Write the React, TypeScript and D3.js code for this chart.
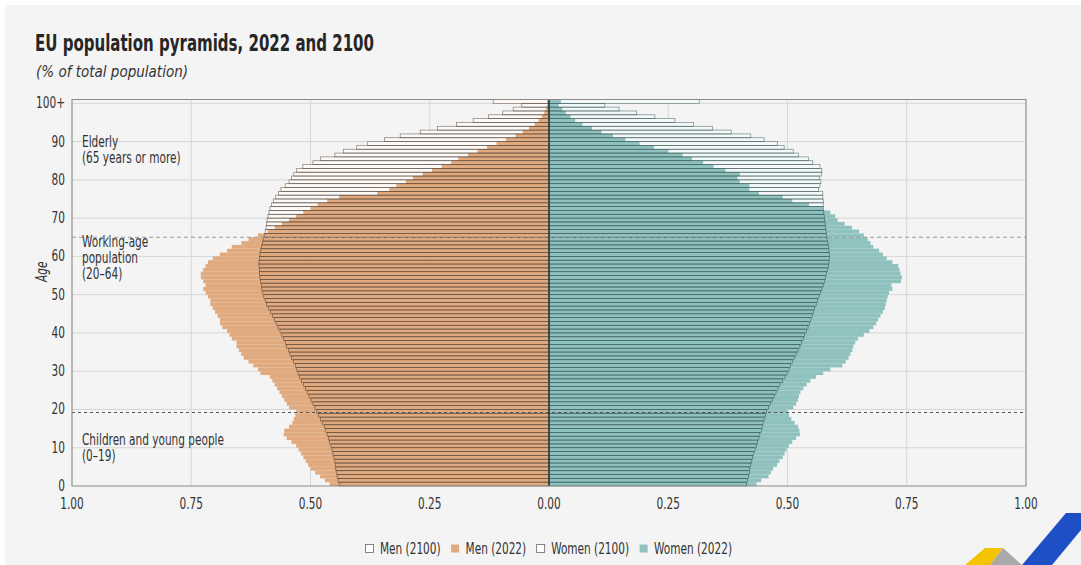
import React, { useEffect, useRef } from 'react';
import * as d3 from 'd3';

// % of total population by single year of age (index = age, last = 100+)
const men2022 = [
  0.46, 0.47, 0.48, 0.49, 0.5, 0.505, 0.51, 0.515, 0.52, 0.525,
  0.53, 0.54, 0.55, 0.556, 0.555, 0.545, 0.538, 0.535, 0.532, 0.53,
  0.545, 0.55, 0.555, 0.56, 0.565, 0.57, 0.575, 0.58, 0.585, 0.605,
  0.61, 0.62, 0.63, 0.64, 0.645, 0.65, 0.655, 0.655, 0.665, 0.67,
  0.675, 0.685, 0.69, 0.69, 0.695, 0.7, 0.705, 0.71, 0.71, 0.715,
  0.72, 0.725, 0.72, 0.725, 0.73, 0.73, 0.725, 0.72, 0.715, 0.705,
  0.69, 0.675, 0.665, 0.645, 0.63, 0.61, 0.59, 0.575, 0.56, 0.545,
  0.53, 0.515, 0.5, 0.485, 0.465, 0.44, 0.36, 0.335, 0.32, 0.3,
  0.285, 0.265, 0.245, 0.225, 0.205, 0.19, 0.17, 0.15, 0.13, 0.11,
  0.09, 0.07, 0.055, 0.042, 0.03, 0.022, 0.015, 0.01, 0.006, 0.004,
  0.004,
];

const men2100 = [
  0.44, 0.442, 0.444, 0.446, 0.447, 0.448, 0.449, 0.451, 0.453, 0.455,
  0.457, 0.46, 0.462, 0.465, 0.468, 0.471, 0.475, 0.479, 0.483, 0.487,
  0.491, 0.495, 0.499, 0.503, 0.507, 0.511, 0.515, 0.519, 0.523, 0.526,
  0.529, 0.532, 0.536, 0.54, 0.543, 0.546, 0.55, 0.553, 0.557, 0.56,
  0.564, 0.568, 0.572, 0.576, 0.58, 0.584, 0.588, 0.592, 0.595, 0.598,
  0.6, 0.602, 0.603, 0.605, 0.606, 0.607, 0.607, 0.608, 0.608, 0.607,
  0.606, 0.605, 0.603, 0.601, 0.599, 0.597, 0.595, 0.593, 0.592, 0.591,
  0.589, 0.587, 0.585, 0.582, 0.578, 0.573, 0.567, 0.562, 0.553, 0.545,
  0.54, 0.535, 0.529, 0.516, 0.495, 0.479, 0.449, 0.431, 0.403, 0.38,
  0.345, 0.312, 0.27, 0.234, 0.194, 0.159, 0.127, 0.097, 0.075, 0.057,
  0.117,
];

const women2022 = [
  0.435, 0.445, 0.46, 0.465, 0.47, 0.478, 0.483, 0.49, 0.494, 0.498,
  0.503, 0.51, 0.518, 0.526, 0.525, 0.522, 0.515, 0.508, 0.503, 0.5,
  0.512, 0.518, 0.522, 0.524, 0.527, 0.533, 0.54, 0.548, 0.56, 0.575,
  0.59, 0.615, 0.622, 0.628, 0.632, 0.636, 0.638, 0.642, 0.648, 0.66,
  0.672, 0.68, 0.686, 0.69, 0.695, 0.7, 0.704, 0.706, 0.708, 0.71,
  0.713, 0.72, 0.718, 0.738, 0.74, 0.737, 0.735, 0.732, 0.72, 0.708,
  0.7, 0.692, 0.68, 0.674, 0.668, 0.66, 0.65, 0.635, 0.62, 0.605,
  0.6, 0.59, 0.575, 0.545, 0.51, 0.49, 0.44, 0.42, 0.42, 0.4,
  0.395, 0.4, 0.37, 0.345, 0.323, 0.3, 0.28, 0.25, 0.22, 0.19,
  0.16, 0.134, 0.11, 0.09, 0.07, 0.055, 0.045, 0.035, 0.028, 0.02,
  0.025,
];

const women2100 = [
  0.414, 0.416, 0.418, 0.42, 0.421, 0.423, 0.425, 0.427, 0.429, 0.432,
  0.435, 0.437, 0.44, 0.442, 0.445, 0.447, 0.449, 0.451, 0.454, 0.456,
  0.46, 0.464, 0.468, 0.472, 0.476, 0.48, 0.484, 0.49, 0.495, 0.499,
  0.503, 0.506, 0.51, 0.514, 0.518, 0.522, 0.526, 0.529, 0.533, 0.536,
  0.54, 0.543, 0.546, 0.549, 0.552, 0.554, 0.557, 0.56, 0.563, 0.566,
  0.569, 0.572, 0.575, 0.578, 0.58, 0.582, 0.584, 0.586, 0.587, 0.588,
  0.588, 0.587, 0.586, 0.585, 0.583, 0.582, 0.581, 0.58, 0.579, 0.578,
  0.577, 0.576, 0.575, 0.575, 0.575, 0.574, 0.574, 0.565, 0.568, 0.57,
  0.567, 0.571, 0.572, 0.568, 0.553, 0.544, 0.523, 0.512, 0.493, 0.479,
  0.451, 0.423, 0.382, 0.343, 0.303, 0.264, 0.222, 0.184, 0.147, 0.117,
  0.315,
];

const ageTicks = [0, 10, 20, 30, 40, 50, 60, 70, 80, 90, 100];
const shareTicks = [-1, -0.75, -0.5, -0.25, 0, 0.25, 0.5, 0.75, 1];
// age-group boundaries drawn as dashed lines
const groupLines = [
  { age: 19.2, color: '#555', dash: '3,3' },
  { age: 65, color: '#9a9a9a', dash: '4,3' },
];
const groupLabels = [
  { age: 88.5, lines: ['Elderly', '(65 years or more)'] },
  { age: 62.5, lines: ['Working-age', 'population', '(20–64)'] },
  { age: 10.6, lines: ['Children and young people', '(0–19)'] },
];
const legendItems = [
  { label: 'Men (2100)', fill: '#ffffff', stroke: '#666' },
  { label: 'Men (2022)', fill: '#e0aa7e', stroke: 'none' },
  { label: 'Women (2100)', fill: '#ffffff', stroke: '#666' },
  { label: 'Women (2022)', fill: '#8fc1be', stroke: 'none' },
];

const FONT = '"DejaVu Sans Condensed", "Liberation Sans Narrow", "Roboto", sans-serif';
const SQUEEZE = 0.78; // original uses a narrower condensed face
const W = 1081;
const H = 565;

export default function App() {
  const svgRef = useRef<SVGSVGElement>(null);

  useEffect(() => {
    if (!svgRef.current) return;
    const svg = d3.select(svgRef.current);
    svg.selectAll('*').remove();

    const x = d3.scaleLinear().domain([-1, 1]).range([72, 1026]);
    const y = d3.scaleLinear().domain([0, 101]).range([486, 99.5]);
    const ages = men2022.map((_, i) => i);

    svg.append('rect').attr('width', W).attr('height', H).attr('fill', '#ffffff');
    svg.append('rect').attr('x', 5).attr('y', 5).attr('width', W - 5).attr('height', H - 5).attr('fill', '#f4f4f4');

    const squeeze = (node: SVGTextElement, k = SQUEEZE) => {
      const len = node.getComputedTextLength();
      node.setAttribute('textLength', String(len * k));
      node.setAttribute('lengthAdjust', 'spacingAndGlyphs');
      return len * k;
    };

    // title
    svg.append('text')
      .attr('x', 35).attr('y', 51)
      .style('font-family', FONT).style('font-size', '23px').style('font-weight', 'bold')
      .attr('fill', '#262626')
      .attr('textLength', 339).attr('lengthAdjust', 'spacingAndGlyphs')
      .text('EU population pyramids, 2022 and 2100');
    svg.append('text')
      .attr('x', 36).attr('y', 77)
      .style('font-family', FONT).style('font-size', '15px').style('font-style', 'italic')
      .attr('fill', '#333')
      .attr('textLength', 152).attr('lengthAdjust', 'spacingAndGlyphs')
      .text('(% of total population)');

    const g = svg.append('g');

    // grid
    g.selectAll('line.vgrid')
      .data(shareTicks)
      .join('line')
      .attr('x1', d => x(d)).attr('x2', d => x(d))
      .attr('y1', y(101)).attr('y2', y(0))
      .attr('stroke', '#d6d6d6').attr('stroke-width', 1);
    g.selectAll('line.hgrid')
      .data(ageTicks.filter(d => d > 0))
      .join('line')
      .attr('x1', x(-1)).attr('x2', x(1))
      .attr('y1', d => y(d)).attr('y2', d => y(d))
      .attr('stroke', '#d6d6d6').attr('stroke-width', 1);

    const bandH = y(0) - y(1);
    const drawFill = (vals: number[], sign: number, fill: string) => {
      g.append('g').selectAll('rect')
        .data(ages)
        .join('rect')
        .attr('x', a => (sign < 0 ? x(-vals[a]) : x(0)))
        .attr('width', a => Math.abs(x(vals[a]) - x(0)))
        .attr('y', a => y(a + 1))
        .attr('height', bandH)
        .attr('fill', fill);
    };
    const drawOutline = (vals: number[], sign: number, stroke: string) => {
      g.append('g').selectAll('rect')
        .data(ages)
        .join('rect')
        .attr('x', a => (sign < 0 ? x(-vals[a]) : x(0)))
        .attr('width', a => Math.abs(x(vals[a]) - x(0)))
        .attr('y', a => y(a + 1))
        .attr('height', bandH)
        .attr('fill', 'none')
        .attr('stroke', stroke)
        .attr('stroke-opacity', 0.6)
        .attr('stroke-width', 0.7);
    };

    // 2100 background fill, 2022 bars, then 2100 outlines on top
    drawFill(men2100, -1, '#fcf9f6');
    drawFill(women2100, 1, '#f3f9f9');
    drawFill(men2022, -1, '#e0aa7e');
    drawFill(women2022, 1, '#8fc1be');
    drawOutline(men2100, -1, '#3b2c22');
    drawOutline(women2100, 1, '#1f3f3d');

    // age-group separators
    g.selectAll('line.group')
      .data(groupLines)
      .join('line')
      .attr('x1', x(-1)).attr('x2', x(1))
      .attr('y1', d => y(d.age)).attr('y2', d => y(d.age))
      .attr('stroke', d => d.color).attr('stroke-width', 1)
      .attr('stroke-dasharray', d => d.dash);

    // centre line and frame
    g.append('line')
      .attr('x1', x(0)).attr('x2', x(0)).attr('y1', y(101)).attr('y2', y(0))
      .attr('stroke', '#2b3b3a').attr('stroke-width', 1.5);
    g.append('rect')
      .attr('x', x(-1)).attr('y', y(101))
      .attr('width', x(1) - x(-1)).attr('height', y(0) - y(101))
      .attr('fill', 'none').attr('stroke', '#8a8a8a').attr('stroke-width', 1);

    // axes labels
    g.selectAll('text.ytick')
      .data(ageTicks)
      .join('text')
      .attr('x', 65).attr('y', d => y(d) + 5)
      .attr('text-anchor', 'end')
      .style('font-family', FONT).style('font-size', '15px')
      .attr('fill', '#333')
      .text(d => (d === 100 ? '100+' : String(d)))
      .each(function () { squeeze(this as SVGTextElement); });
    g.selectAll('text.xtick')
      .data(shareTicks)
      .join('text')
      .attr('x', d => x(d)).attr('y', 509)
      .attr('text-anchor', 'middle')
      .style('font-family', FONT).style('font-size', '15px')
      .attr('fill', '#333')
      .text(d => d3.format('.2f')(Math.abs(d)))
      .each(function () { squeeze(this as SVGTextElement); });
    const ageLbl = g.append('text')
      .attr('transform', `translate(47,${y(56)}) rotate(-90)`)
      .attr('text-anchor', 'middle')
      .style('font-family', FONT).style('font-size', '15px').style('font-style', 'italic')
      .attr('fill', '#333')
      .text('Age');
    squeeze(ageLbl.node() as SVGTextElement);

    // group labels
    groupLabels.forEach(lbl => {
      lbl.lines.forEach((ln, i) => {
        const t = g.append('text')
          .attr('x', 82).attr('y', y(lbl.age) + i * 16)
          .style('font-family', FONT).style('font-size', '15px')
          .attr('fill', '#333')
          .text(ln);
        squeeze(t.node() as SVGTextElement);
      });
    });

    // legend
    const legend = svg.append('g').attr('transform', 'translate(365,549)');
    let lx = 0;
    legendItems.forEach(item => {
      legend.append('rect')
        .attr('x', lx + 0.5).attr('y', -4.5).attr('width', 8).attr('height', 8)
        .attr('fill', item.fill).attr('stroke', item.stroke).attr('stroke-width', 0.8);
      const txt = legend.append('text')
        .attr('x', lx + 15).attr('y', 5)
        .style('font-family', FONT).style('font-size', '15px')
        .attr('fill', '#333')
        .text(item.label);
      const w = squeeze(txt.node() as SVGTextElement);
      lx += 15 + w + 10;
    });

    // logo corner
    const logo = svg.append('g');
    logo.append('path').attr('d', 'M965,565 L985,548 L1003,548 L990,565 Z').attr('fill', '#f5c400');
    logo.append('path').attr('d', 'M990,565 L1003,548 L1022,565 Z').attr('fill', '#a9a9a9');
    logo.append('path').attr('d', 'M1022,565 L1066,513 L1081,513 L1081,530 L1052,565 Z').attr('fill', '#1f4fc4');
  }, []);

  return (
    <svg
      ref={svgRef}
      width={W}
      height={H}
      style={{ position: 'absolute', left: 0, top: 0 }}
    />
  );
}
